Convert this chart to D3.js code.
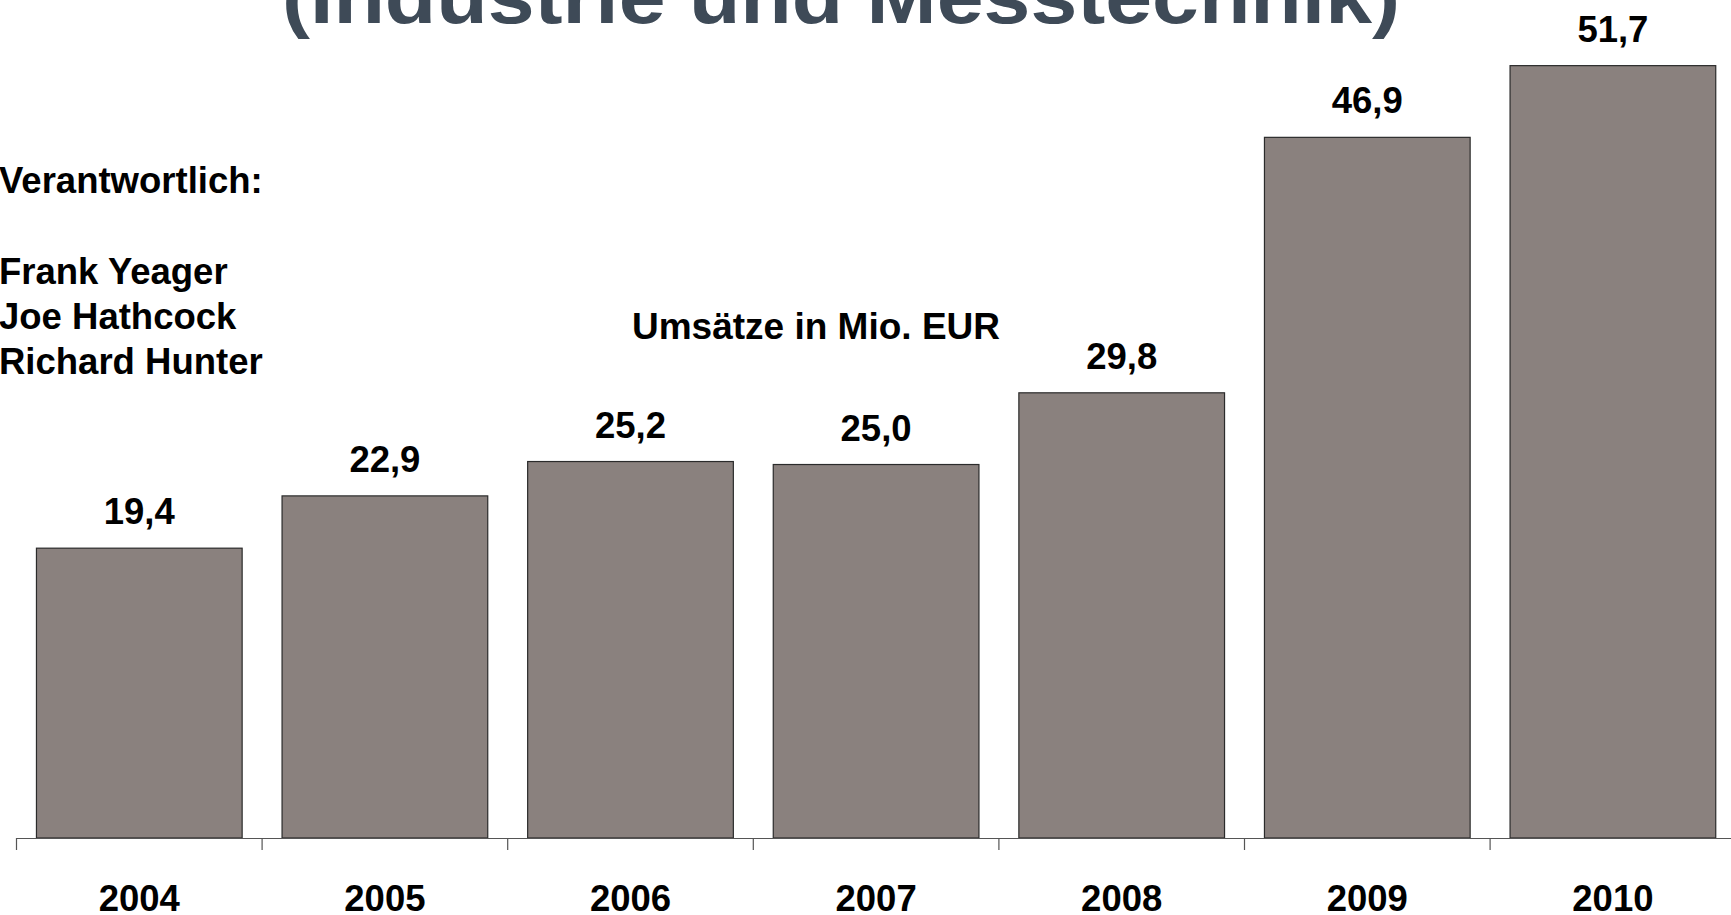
<!DOCTYPE html>
<html>
<head>
<meta charset="utf-8">
<script src="https://cdn.jsdelivr.net/npm/d3@7"></script>
<style>
  html, body { margin: 0; padding: 0; background: #ffffff; overflow: hidden; }
  svg { display: block; }
  text { font-family: "Liberation Sans", Arial, sans-serif; font-weight: bold; }
</style>
</head>
<body>
<svg id="chart" width="1731" height="915"></svg>
<script>
const years = ["2004", "2005", "2006", "2007", "2008", "2009", "2010"];
const revenue = [19.4, 22.9, 25.2, 25.0, 29.8, 46.9, 51.7];
const valueLabels = ["19,4", "22,9", "25,2", "25,0", "29,8", "46,9", "51,7"];
const titleText = "(Industrie und Messtechnik)";
const sideLines = ["Verantwortlich:", "", "Frank Yeager", "Joe Hathcock", "Richard Hunter"];
const seriesLabel = "Umsätze in Mio. EUR";

const W = 1731, H = 915;
const svg = d3.select("#chart");
const baseY = 838;

const x = d3.scaleBand()
  .domain(years)
  .range([16.5, 1735.7])
  .paddingInner(0.1625)
  .paddingOuter(0.08125);

const y = d3.scaleLinear().domain([0, 56]).range([baseY, 1.4]);

// Title (cut off at top)
svg.append("text")
  .attr("x", 841).attr("y", 23)
  .attr("text-anchor", "middle")
  .attr("font-size", 76)
  .attr("textLength", 1118)
  .attr("lengthAdjust", "spacingAndGlyphs")
  .attr("fill", "#3e4a57")
  .text(titleText);

// Left side text
const sideBaselines = [193, 238, 283.5, 329, 374];
sideLines.forEach((t, i) => {
  if (!t) return;
  svg.append("text")
    .attr("x", -1).attr("y", sideBaselines[i])
    .attr("font-size", 36.5)
    .attr("fill", "#000")
    .text(t);
});

// Series label
svg.append("text")
  .attr("x", 816).attr("y", 339)
  .attr("text-anchor", "middle")
  .attr("font-size", 37)
  .attr("fill", "#000")
  .text(seriesLabel);

// Bars
svg.append("g").selectAll("rect")
  .data(years)
  .join("rect")
  .attr("x", d => x(d))
  .attr("y", (d, i) => y(revenue[i]))
  .attr("width", x.bandwidth())
  .attr("height", (d, i) => baseY - y(revenue[i]))
  .attr("fill", "#8a817e")
  .attr("stroke", "#2b2b2b")
  .attr("stroke-width", 1.2);

// Value labels
svg.append("g").selectAll("text")
  .data(years)
  .join("text")
  .attr("x", d => x(d) + x.bandwidth() / 2)
  .attr("y", (d, i) => y(revenue[i]) - 24)
  .attr("text-anchor", "middle")
  .attr("font-size", 36.5)
  .attr("fill", "#000")
  .text((d, i) => valueLabels[i]);

// Axis: line, boundary ticks, labels
const axisG = svg.append("g").attr("transform", `translate(0,${baseY})`);
const xAxis = d3.axisBottom(x).tickSize(0).tickPadding(48);
axisG.call(xAxis);
axisG.select(".domain").remove();
axisG.selectAll(".tick text")
  .attr("font-size", 36.5)
  .attr("fill", "#000")
  .attr("dy", "0")
  .attr("y", 73);

const step = x.step();
const gap = step * x.paddingInner();
const bounds = years.map(d => x(d) - gap / 2);
bounds.push(x(years[years.length - 1]) + x.bandwidth() + gap / 2);

axisG.append("line")
  .attr("x1", bounds[0]).attr("x2", W)
  .attr("y1", 0.5).attr("y2", 0.5)
  .attr("stroke", "#555").attr("stroke-width", 1.2);

axisG.selectAll(".bnd")
  .data(bounds)
  .join("line")
  .attr("class", "bnd")
  .attr("x1", d => d).attr("x2", d => d)
  .attr("y1", 0).attr("y2", 12)
  .attr("stroke", "#555").attr("stroke-width", 1.2);
</script>
</body>
</html>
